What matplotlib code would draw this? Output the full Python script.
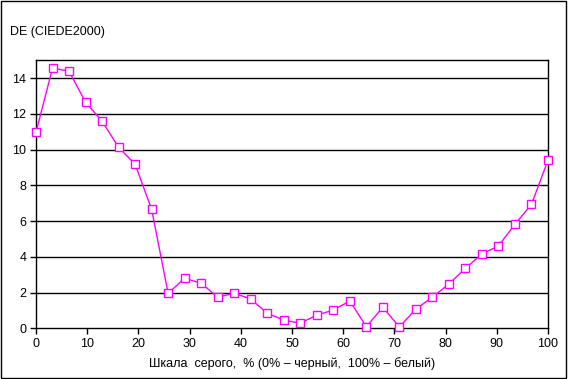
import matplotlib.pyplot as plt
from matplotlib.patches import Rectangle

# grey scale steps (32 patches, 0..100 %)
gray_pct = [i * 100 / 31 for i in range(32)]
de_values = [10.97, 14.56, 14.39, 12.65, 11.59, 10.13, 9.18, 6.66,
             1.96, 2.80, 2.52, 1.74, 1.96, 1.64, 0.84, 0.46,
             0.28, 0.74, 1.02, 1.53, 0.09, 1.18, 0.07, 1.08,
             1.74, 2.48, 3.36, 4.16, 4.61, 5.82, 6.94, 9.41]

plt.rcParams['font.family'] = ['Liberation Sans', 'DejaVu Sans']

fig = plt.figure(figsize=(5.68, 3.79), dpi=100)
ax = fig.add_axes([36 / 568, 1 - 328.3 / 379, 512 / 568, 268 / 379])

# outer chart border
fig.patches.append(Rectangle((1 / 568, 1 / 379), 565 / 568, 377 / 379,
                             transform=fig.transFigure, fill=False,
                             edgecolor='black', linewidth=1))

ax.plot(gray_pct, de_values, color='#FF00FF', linewidth=1,
        marker='s', markersize=6, markerfacecolor='white',
        markeredgecolor='#FF00FF', markeredgewidth=1, clip_on=False, zorder=3)

ax.set_xlim(0, 100)
ax.set_ylim(0, 15)
ax.set_xticks(range(0, 101, 10))
ax.set_yticks(range(0, 15, 2))
for y in range(2, 15, 2):
    ax.axhline(y, color='black', linewidth=1, zorder=1)

for s in ax.spines.values():
    s.set_linewidth(1)
ax.tick_params(labelsize=9, length=4, width=1, direction='out', pad=3)

ax.set_xlabel('Шкала  серого,  % (0% – черный,  100% – белый)', fontsize=9, labelpad=5)
fig.text(10 / 568, 1 - 32.3 / 379, 'DE (CIEDE2000)', fontsize=9, va='center', ha='left')

fig.savefig('out.png', dpi=100)
